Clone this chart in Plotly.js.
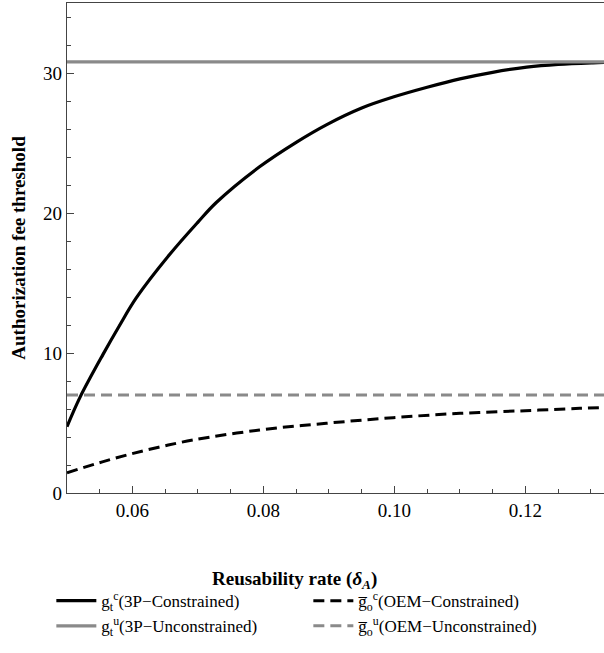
<!DOCTYPE html>
<html>
<head>
<meta charset="utf-8">
<script src="https://cdn.plot.ly/plotly-3.0.1.min.js"></script>
<style>html,body{margin:0;padding:0;background:#fff;}</style>
</head>
<body>
<div id="chart" style="width:604px;height:653px;"></div>
<script>
// Data
const delta3PC = [0.05, 0.052, 0.0555, 0.058, 0.0606, 0.0657, 0.07, 0.0728, 0.0794, 0.085, 0.0896, 0.095, 0.0998, 0.105, 0.110, 0.115, 0.1202, 0.125, 0.1303, 0.132];
const fee3PC   = [4.74, 6.85, 9.9, 11.95, 13.95, 17.05, 19.35, 20.75, 23.3, 25.05, 26.3, 27.5, 28.28, 28.98, 29.58, 30.05, 30.42, 30.62, 30.73, 30.75];
const deltaOEMC = [0.05, 0.0545, 0.0591, 0.064, 0.0693, 0.0794, 0.0896, 0.0998, 0.110, 0.120, 0.1283, 0.132];
const feeOEMC   = [1.45, 2.1, 2.71, 3.27, 3.79, 4.5, 4.98, 5.38, 5.69, 5.88, 6.05, 6.1];
const deltaFlat = [0.05, 0.132];
const fee3PU    = [30.8, 30.8];
const feeOEMU   = [7.0, 7.0];
const seriesNames = [
  "g<sub>t</sub><sup>c</sup>(3P\u2212Constrained)",
  "g\u0305<sub>o</sub><sup>c</sup>(OEM\u2212Constrained)",
  "g<sub>t</sub><sup>u</sup>(3P\u2212Unconstrained)",
  "g\u0305<sub>o</sub><sup>u</sup>(OEM\u2212Unconstrained)"
];
const xTickVals = [0.06, 0.08, 0.10, 0.12];
const xTickText = ["0.06", "0.08", "0.10", "0.12"];
const yTickVals = [0, 10, 20, 30];

const FONT = "Liberation Serif";
const GRAY = "#8a8a8a";

const traces = [
  {x: delta3PC, y: fee3PC, name: seriesNames[0], mode: "lines",
   line: {color: "#000", width: 3.2, shape: "spline", smoothing: 1}},
  {x: deltaOEMC, y: feeOEMC, name: seriesNames[1], mode: "lines",
   line: {color: "#000", width: 3, dash: "11px,6px", shape: "spline", smoothing: 1}},
  {x: deltaFlat, y: fee3PU, name: seriesNames[2], mode: "lines",
   line: {color: GRAY, width: 3.2}},
  {x: deltaFlat, y: feeOEMU, name: seriesNames[3], mode: "lines",
   line: {color: GRAY, width: 3, dash: "11px,6px"}}
];

const layout = {
  width: 604, height: 653,
  margin: {l: 67, r: 0, t: 3, b: 160, autoexpand: false},
  paper_bgcolor: "#fff", plot_bgcolor: "#fff",
  font: {family: FONT, size: 19, color: "#000"},
  showlegend: true,
  legend: {
    orientation: "h", xref: "container", yref: "container",
    x: 0.085, xanchor: "left", y: 0.107, yanchor: "top",
    entrywidth: 202, entrywidthmode: "pixels",
    font: {family: FONT, size: 17, color: "#000"},
    tracegroupgap: 0, itemwidth: 40
  },
  xaxis: {
    range: [0.05, 0.132], showgrid: false, zeroline: false,
    showline: true, linecolor: "#444", linewidth: 1.3, mirror: true,
    ticks: "inside", ticklen: 7, tickcolor: "#444", tickwidth: 1,
    tickvals: xTickVals, ticktext: xTickText,
    tickfont: {family: FONT, size: 19, color: "#000"},
    minor: {dtick: 0.005, tick0: 0.05, ticks: "inside", ticklen: 4, tickcolor: "#444", showgrid: false}
  },
  yaxis: {
    range: [0, 35], showgrid: false, zeroline: false,
    showline: true, linecolor: "#444", linewidth: 1.3,
    ticks: "inside", ticklen: 7, tickcolor: "#444", tickwidth: 1,
    tickvals: yTickVals, tickfont: {family: FONT, size: 19, color: "#000"},
    minor: {dtick: 2, tick0: 0, ticks: "inside", ticklen: 4, tickcolor: "#444", showgrid: false},
    title: {text: "<b>Authorization fee threshold</b>", font: {family: FONT, size: 19}, standoff: 12}
  },
  annotations: [{
    text: "<b>Reusability rate (<i>δ<sub>A</sub></i>)</b>",
    xref: "paper", yref: "paper", x: 0.423, y: -0.177, xanchor: "center", yanchor: "middle",
    showarrow: false, font: {family: FONT, size: 19}
  }]
};

Plotly.newPlot("chart", traces, layout, {displayModeBar: false, staticPlot: true});
</script>
</body>
</html>
